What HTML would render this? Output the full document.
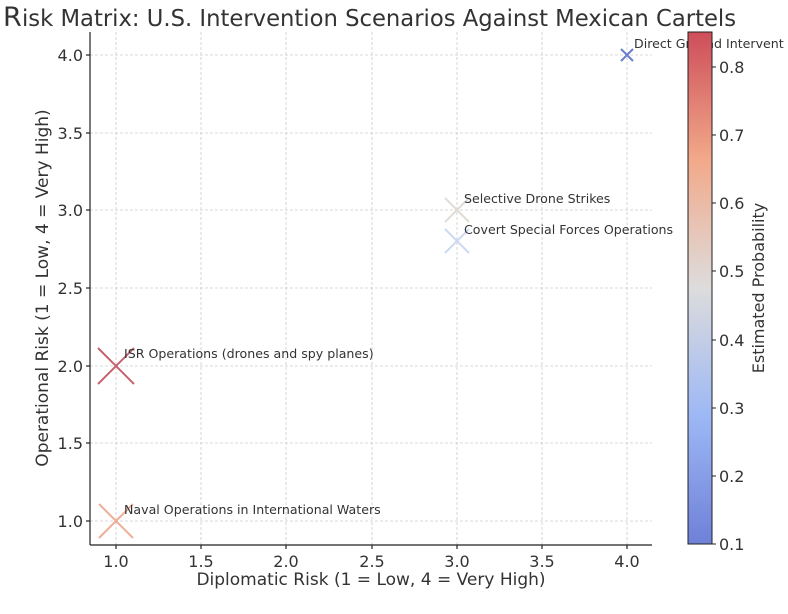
<!DOCTYPE html>
<html><head><style>body{margin:0;background:#fff}svg{display:block}text{font-family:"DejaVu Sans","Liberation Sans",sans-serif;fill:#333}</style></head><body>
<svg width="788" height="614" xmlns="http://www.w3.org/2000/svg">
<defs><linearGradient id="cm" x1="0" y1="1" x2="0" y2="0">
<stop offset="0" stop-color="#6f80d8"/><stop offset="0.25" stop-color="#9db8f5"/><stop offset="0.5" stop-color="#dddcdc"/><stop offset="0.75" stop-color="#f2a98a"/><stop offset="1" stop-color="#cd4e5a"/></linearGradient></defs>
<text x="3" y="26" font-size="27">R</text><text x="22" y="26" font-size="22.7">isk Matrix: U.S. Intervention Scenarios Against Mexican Cartels</text>
<g stroke="#ccc" stroke-dasharray="3,2" stroke-width="0.8">
<line x1="116" y1="32" x2="116" y2="545"/><line x1="201" y1="32" x2="201" y2="545"/><line x1="286" y1="32" x2="286" y2="545"/><line x1="372" y1="32" x2="372" y2="545"/><line x1="457" y1="32" x2="457" y2="545"/><line x1="542" y1="32" x2="542" y2="545"/><line x1="627" y1="32" x2="627" y2="545"/>
<line x1="90" y1="55" x2="652" y2="55"/><line x1="90" y1="133" x2="652" y2="133"/><line x1="90" y1="210" x2="652" y2="210"/><line x1="90" y1="288" x2="652" y2="288"/><line x1="90" y1="366" x2="652" y2="366"/><line x1="90" y1="443" x2="652" y2="443"/><line x1="90" y1="521" x2="652" y2="521"/>
</g>
<g stroke="#222" stroke-width="1.2"><line x1="90" y1="32" x2="90" y2="545"/><line x1="90" y1="545" x2="652" y2="545"/>
<line x1="116" y1="545" x2="116" y2="549"/><line x1="201" y1="545" x2="201" y2="549"/><line x1="286" y1="545" x2="286" y2="549"/><line x1="372" y1="545" x2="372" y2="549"/><line x1="457" y1="545" x2="457" y2="549"/><line x1="542" y1="545" x2="542" y2="549"/><line x1="627" y1="545" x2="627" y2="549"/>
<line x1="86" y1="55" x2="90" y2="55"/><line x1="86" y1="133" x2="90" y2="133"/><line x1="86" y1="210" x2="90" y2="210"/><line x1="86" y1="288" x2="90" y2="288"/><line x1="86" y1="366" x2="90" y2="366"/><line x1="86" y1="443" x2="90" y2="443"/><line x1="86" y1="521" x2="90" y2="521"/></g>
<g font-size="16" text-anchor="middle"><text x="116" y="567">1.0</text><text x="201" y="567">1.5</text><text x="286" y="567">2.0</text><text x="372" y="567">2.5</text><text x="457" y="567">3.0</text><text x="542" y="567">3.5</text><text x="627" y="567">4.0</text></g>
<g font-size="16" text-anchor="end"><text x="83" y="61">4.0</text><text x="83" y="139">3.5</text><text x="83" y="216">3.0</text><text x="83" y="294">2.5</text><text x="83" y="372">2.0</text><text x="83" y="449">1.5</text><text x="83" y="527">1.0</text></g>
<text x="371" y="585" font-size="17" text-anchor="middle">Diplomatic Risk (1 = Low, 4 = Very High)</text>
<text transform="translate(48,288) rotate(-90)" font-size="17" text-anchor="middle">Operational Risk (1 = Low, 4 = Very High)</text>
<g stroke-width="2" fill="none">
<path d="M98 348L134 384M134 348L98 384" stroke="#c0525f" opacity="0.9"/>
<path d="M99 504L133 538M133 504L99 538" stroke="#eca58c" opacity="0.9"/>
<path d="M445 198L469 222M469 198L445 222" stroke="#e0d8d2" opacity="0.9"/>
<path d="M445 229L469 253M469 229L445 253" stroke="#c6d6f0" opacity="0.9"/>
<path d="M621 49L633 61M633 49L621 61" stroke="#6a7fd0"/>
</g>
<g font-size="12.6"><text x="124" y="358">ISR Operations (drones and spy planes)</text><text x="124" y="514">Naval Operations in International Waters</text><text x="464" y="203">Selective Drone Strikes</text><text x="464" y="234">Covert Special Forces Operations</text><text x="634" y="48">Direct Ground Intervent</text></g>
<rect x="688" y="32" width="24" height="512" fill="url(#cm)" stroke="#222" stroke-width="1"/>
<g stroke="#222"><line x1="712" y1="67" x2="716" y2="67"/><line x1="712" y1="135" x2="716" y2="135"/><line x1="712" y1="203" x2="716" y2="203"/><line x1="712" y1="271" x2="716" y2="271"/><line x1="712" y1="340" x2="716" y2="340"/><line x1="712" y1="408" x2="716" y2="408"/><line x1="712" y1="476" x2="716" y2="476"/><line x1="712" y1="544" x2="716" y2="544"/></g>
<g font-size="16"><text x="719" y="73">0.8</text><text x="719" y="141">0.7</text><text x="719" y="209">0.6</text><text x="719" y="277">0.5</text><text x="719" y="346">0.4</text><text x="719" y="414">0.3</text><text x="719" y="482">0.2</text><text x="719" y="550">0.1</text></g>
<text transform="translate(764,288) rotate(-90)" font-size="16" text-anchor="middle">Estimated Probability</text>
</svg></body></html>
